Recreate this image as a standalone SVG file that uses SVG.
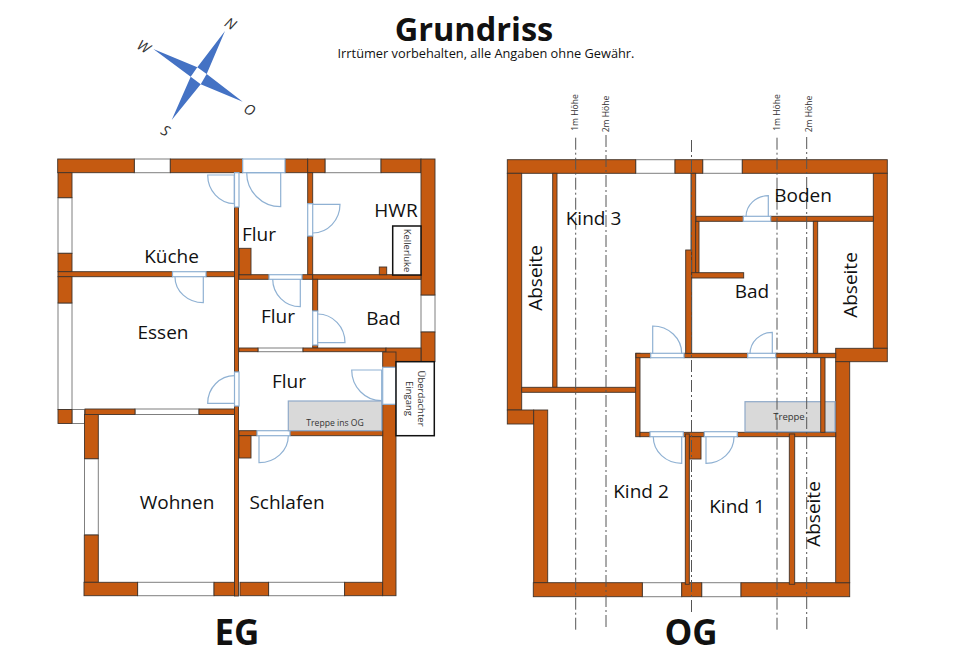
<svg xmlns="http://www.w3.org/2000/svg" width="960" height="663" viewBox="0 0 960 663">
<style>
text{font-family:"Open Sans","Noto Sans","Liberation Sans",sans-serif;fill:#111;text-anchor:middle}
.w{fill:#c55a11;stroke:#40332a;stroke-width:.9}
.f{fill:#fff;stroke:#7f7f7f;stroke-width:1}
.d{fill:#fff;stroke:#8fb1d3;stroke-width:1.2}
.a{fill:none;stroke:#8fb1d3;stroke-width:1.2}
.s{fill:#d9d9d9;stroke:#8fa9c8;stroke-width:1.2}
.b{fill:#fff;stroke:#111;stroke-width:1.5}
.h{stroke:#555;stroke-width:1;stroke-dasharray:12 3 2 3;fill:none}
.r{font-size:19px}
.t{font-size:9.5px;fill:#333}
.t2{font-size:8.6px;fill:#333}
.c{font-size:14.5px;font-style:italic;fill:#333}
.big{font-size:35px;font-weight:700}
</style>
<g id="titel">
<text x="474" y="41" font-size="32.500" font-weight="700">Grundriss</text>
<text x="486" y="58" font-size="12.800" fill="#222">Irrtümer vorbehalten, alle Angaben ohne Gewähr.</text>
</g>
<g id="kompass">
<polygon points="225,31 206.7,74 242.7,101.7 200.7,84.3 171.7,120 190.7,76.7 153.3,49 197.3,67.3" fill="#4472c4"/>
<polygon points="197.3,67.3 206.7,74 200.7,84.3 190.7,76.7" fill="#fff"/>
<text class="c" transform="translate(228,28) rotate(30)">N</text>
<text class="c" transform="translate(141,51) rotate(30)">W</text>
<text class="c" transform="translate(247,114) rotate(30)">O</text>
<text class="c" transform="translate(163,135) rotate(30)">S</text>
</g>
<g id="eg">
<g id="eg-fenster">
<rect class="f" x="134.3" y="159" width="36" height="13.7"/>
<rect class="f" x="325" y="159" width="56" height="13.7"/>
<rect class="f" x="58" y="197.7" width="14" height="55.6"/>
<rect class="f" x="58" y="303" width="14" height="106.5"/>
<rect class="f" x="72" y="409.5" width="12.5" height="14"/>
<rect class="f" x="135" y="409" width="64" height="5.5"/>
<rect class="f" x="84.5" y="458.7" width="13.8" height="76.3"/>
<rect class="f" x="137.6" y="582.3" width="76.4" height="13.4"/>
<rect class="f" x="268.6" y="582.3" width="76" height="13.4"/>
<rect class="f" x="421" y="295" width="14" height="37"/>
<rect class="f" x="258" y="348" width="45" height="3.7"/>
</g>
<g id="eg-waende">
<rect class="w" x="57.7" y="159" width="76.6" height="13.7"/>
<rect class="w" x="170.3" y="159" width="72.4" height="13.7"/>
<rect class="w" x="285" y="159" width="22.7" height="13.7"/>
<rect class="w" x="307.7" y="159" width="17.3" height="13.7"/>
<rect class="w" x="381" y="159" width="40" height="13.7"/>
<rect class="w" x="421" y="159" width="14" height="136"/>
<rect class="w" x="421" y="332" width="14" height="29.7"/>
<rect class="w" x="58" y="172.7" width="14" height="25"/>
<rect class="w" x="58" y="253.3" width="14" height="18.4"/>
<rect class="w" x="58" y="271.7" width="114.5" height="5"/>
<rect class="w" x="206" y="271.7" width="28.5" height="5"/>
<rect class="w" x="58" y="276.7" width="14" height="26.3"/>
<rect class="w" x="58" y="409.5" width="14" height="14"/>
<rect class="w" x="85" y="409" width="50" height="5.5"/>
<rect class="w" x="199" y="409" width="35.5" height="5.5"/>
<rect class="w" x="84.5" y="414.5" width="13.8" height="44.2"/>
<rect class="w" x="84.3" y="535" width="14" height="47.3"/>
<rect class="w" x="84" y="582.3" width="53.6" height="13.4"/>
<rect class="w" x="214" y="582.3" width="20.5" height="13.4"/>
<rect class="w" x="240" y="582.3" width="28.6" height="13.4"/>
<rect class="w" x="344.6" y="582.3" width="38" height="13.4"/>
<rect class="w" x="234.5" y="207" width="4" height="165"/>
<rect class="w" x="234.5" y="406" width="4" height="190"/>
<rect class="w" x="307.7" y="172.7" width="5" height="31"/>
<rect class="w" x="307.7" y="236" width="5" height="39"/>
<rect class="w" x="239" y="274.7" width="30" height="4.6"/>
<rect class="w" x="302" y="274.7" width="10.7" height="4.6"/>
<rect class="w" x="312.7" y="274.7" width="108.3" height="4.6"/>
<rect class="w" x="239.3" y="248.3" width="11.7" height="26.4"/>
<rect class="w" x="379.3" y="267" width="7.4" height="7.7"/>
<rect class="w" x="312.7" y="279.3" width="5" height="31.7"/>
<rect class="w" x="312.7" y="345" width="5" height="3"/>
<rect class="w" x="239" y="348" width="19" height="3.7"/>
<rect class="w" x="303" y="348" width="83" height="3.7"/>
<rect class="w" x="386" y="348" width="35" height="13.7"/>
<rect class="w" x="382.7" y="352" width="13.3" height="15.3"/>
<rect class="w" x="382.7" y="404.3" width="13.3" height="191.4"/>
<rect class="w" x="239" y="430.7" width="18" height="5"/>
<rect class="w" x="290" y="430.7" width="92.7" height="5"/>
<rect class="w" x="239" y="435.7" width="12" height="22.3"/>
</g>
<g id="eg-tueren">
<rect class="d" x="242.7" y="159" width="42.3" height="13.7"/>
<rect class="d" x="234.5" y="172.7" width="4.5" height="34.3"/>
<rect class="d" x="234.5" y="372" width="4.5" height="34"/>
<rect class="d" x="307.7" y="203.7" width="5" height="32.3"/>
<rect class="d" x="172.5" y="271.7" width="33.5" height="5"/>
<rect class="d" x="269" y="274.7" width="33" height="4.6"/>
<rect class="d" x="312.7" y="311" width="5" height="34"/>
<rect class="d" x="382.7" y="367.3" width="13.3" height="37"/>
<rect class="d" x="257" y="430.7" width="33" height="5"/>
<path class="a" d="M207.7 175H234.3V203.7A27 28.7 0 0 1 207.7 175Z"/>
<path class="a" d="M246.7 172.7H280.7V206.7A34 34 0 0 1 246.7 172.7Z"/>
<path class="a" d="M312.7 204.3H340A27.3 28.7 0 0 1 312.7 233"/>
<path class="a" d="M175 277A28.3 25.7 0 0 0 203.3 302.7V277"/>
<path class="a" d="M272.7 279A27.6 27.7 0 0 0 300.3 306.7V279"/>
<path class="a" d="M317.7 314A27.3 28.7 0 0 1 345 342.7H317.7"/>
<path class="a" d="M351.7 370H381.7V400.7A30 30.7 0 0 1 351.7 370Z"/>
<path class="a" d="M234.5 375.700A26.8 27.600 0 0 0 207.700 403.300H234.500"/>
<path class="a" d="M288.3 436A29.300 26.700 0 0 1 259 462.700V436"/>
</g>
<rect id="eg-treppe" class="s" x="288.3" y="401" width="93.400" height="29.700"/>
<rect id="eg-kellerluke" class="b" x="392.700" y="226" width="28.300" height="49"/>
<rect id="eg-eingang" class="b" x="396" y="361.700" width="38.300" height="74"/>
<g id="eg-text">
<text class="r" x="171.500" y="263">Küche</text>
<text class="r" x="259" y="241">Flur</text>
<text class="r" x="396" y="217">HWR</text>
<text class="r" x="278" y="323">Flur</text>
<text class="r" x="383.500" y="325">Bad</text>
<text class="r" x="163" y="339">Essen</text>
<text class="r" x="289" y="388">Flur</text>
<text class="r" x="177" y="509">Wohnen</text>
<text class="r" x="287" y="509">Schlafen</text>
<text class="t2" x="335" y="426">Treppe ins OG</text>
<text class="t" transform="translate(403.500,250.500) rotate(90)">Kellerluke</text>
<text class="t" transform="translate(417.500,398.500) rotate(90)">Überdachter</text>
<text class="t" transform="translate(405.500,398.500) rotate(90)">Eingang</text>
<text class="big" x="237" y="645">EG</text>
</g>
</g>
<g id="og">
<g id="og-fenster">
<rect class="f" x="635.700" y="159.700" width="39.300" height="13.600"/>
<rect class="f" x="702.700" y="159.700" width="39.600" height="13.600"/>
<rect class="f" x="642.300" y="582.700" width="39.400" height="14"/>
<rect class="f" x="701.700" y="582.700" width="39.300" height="14"/>
</g>
<g id="og-waende">
<rect class="w" x="507.300" y="159.700" width="128.400" height="13.600"/>
<rect class="w" x="675" y="159.700" width="27.700" height="13.600"/>
<rect class="w" x="742.300" y="159.700" width="145" height="13.600"/>
<rect class="w" x="507.300" y="173.300" width="14.400" height="236.700"/>
<rect class="w" x="507.300" y="410" width="26.400" height="14"/>
<rect class="w" x="533.700" y="410" width="14" height="172.700"/>
<rect class="w" x="533.300" y="582.700" width="109" height="14"/>
<rect class="w" x="681.700" y="582.700" width="20" height="14"/>
<rect class="w" x="741" y="582.700" width="108.700" height="14"/>
<rect class="w" x="873.300" y="173.300" width="14" height="175"/>
<rect class="w" x="835.700" y="348.300" width="51.600" height="13.400"/>
<rect class="w" x="835.700" y="361.700" width="14" height="221"/>
<rect class="w" x="552.700" y="173.300" width="4.300" height="214"/>
<rect class="w" x="521.700" y="387.300" width="115.600" height="5"/>
<rect class="w" x="635.700" y="353.300" width="4.300" height="83.400"/>
<rect class="w" x="636" y="353.300" width="14.700" height="4.400"/>
<rect class="w" x="684" y="353.300" width="63.700" height="4.400"/>
<rect class="w" x="775.700" y="353.300" width="60" height="4.400"/>
<rect class="w" x="691" y="173.300" width="4.700" height="100"/>
<rect class="w" x="695.700" y="221.300" width="3.300" height="51.400"/>
<rect class="w" x="685.700" y="250" width="6" height="103.300"/>
<rect class="w" x="691.700" y="272.700" width="52" height="5.300"/>
<rect class="w" x="696" y="216.300" width="47.300" height="5"/>
<rect class="w" x="770.700" y="216.300" width="102.600" height="5"/>
<rect class="w" x="813.300" y="221.300" width="4.400" height="132"/>
<rect class="w" x="640" y="432.300" width="10" height="4.400"/>
<rect class="w" x="683.300" y="432.300" width="20.700" height="4.400"/>
<rect class="w" x="737.300" y="432.300" width="98.400" height="4.400"/>
<rect class="w" x="689.300" y="436.700" width="11.700" height="22.300"/>
<rect class="w" x="685.300" y="434" width="4" height="150.300"/>
<rect class="w" x="789.300" y="434" width="5.400" height="150.300"/>
</g>
<g id="og-tueren">
<rect class="d" x="743.300" y="216.300" width="27.400" height="5"/>
<rect class="d" x="650.700" y="353.300" width="33.300" height="4.400"/>
<rect class="d" x="747.700" y="353.300" width="28" height="4.400"/>
<rect class="d" x="650" y="431.700" width="33.300" height="5"/>
<rect class="d" x="704.300" y="431.700" width="33" height="5"/>
<path class="a" d="M652.700 353.500V326A29 27.500 0 0 1 681.700 353.500"/>
<path class="a" d="M772.300 354V332.300A22.300 21.700 0 0 0 750 354"/>
<path class="a" d="M768.300 216.700V195.700A22.300 21 0 0 0 746 216.700"/>
<path class="a" d="M653.300 437A28.400 26.300 0 0 0 681.700 463.300V437"/>
<path class="a" d="M734 437A28 26.300 0 0 1 706 463.300V437"/>
</g>
<rect id="og-treppe" class="s" x="745" y="401.700" width="90" height="30"/>
<rect class="w" x="820.700" y="357.700" width="4.300" height="74.600"/>
<g id="og-hoehenlinien">
<line class="h" x1="575.700" y1="137.700" x2="575.700" y2="631.700"/>
<line class="h" x1="606" y1="135" x2="606" y2="630"/>
<line class="h" x1="691.500" y1="140" x2="691.500" y2="615"/>
<line class="h" x1="777" y1="137.700" x2="777" y2="631.700"/>
<line class="h" x1="806.700" y1="137" x2="806.700" y2="629"/>
</g>
<g id="og-text">
<text class="t2" transform="translate(578,112.500) rotate(-90)">1m Höhe</text>
<text class="t2" transform="translate(609,114) rotate(-90)">2m Höhe</text>
<text class="t2" transform="translate(780,112.500) rotate(-90)">1m Höhe</text>
<text class="t2" transform="translate(812,114) rotate(-90)">2m Höhe</text>
<text class="r" x="593.500" y="225">Kind 3</text>
<text class="r" x="803" y="202">Boden</text>
<text class="r" x="752" y="298">Bad</text>
<text class="r" transform="translate(542,278) rotate(-90)">Abseite</text>
<text class="r" transform="translate(857,285) rotate(-90)">Abseite</text>
<text class="r" transform="translate(820,514) rotate(-90)">Abseite</text>
<text class="r" x="641" y="498">Kind 2</text>
<text class="r" x="737" y="513">Kind 1</text>
<text class="t" x="789" y="420">Treppe</text>
<text class="big" x="691" y="645">OG</text>
</g>
</g>
</svg>
